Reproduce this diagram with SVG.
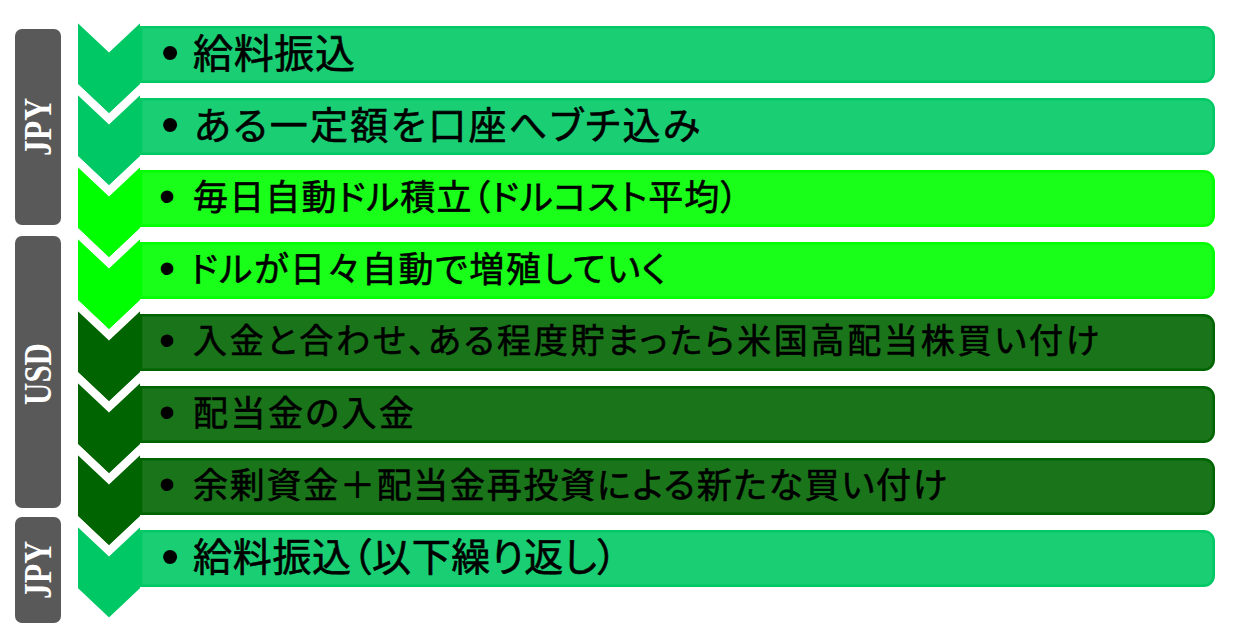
<svg xmlns="http://www.w3.org/2000/svg" width="1233" height="637" viewBox="0 0 1233 637">
<style>
.lab{fill:#595959}
.labt{fill:#fff;font-family:"Liberation Serif","Times New Roman",serif;font-weight:bold;font-size:40px}
.chev{stroke:#fff;stroke-width:8;stroke-linejoin:miter}
.c1{fill:#00C864}.c2{fill:#00FF00}.c3{fill:#006400}
.box{stroke-width:2.5}
.b1{fill:#1ACE74;stroke:#00C864}.b2{fill:#1AFF1A;stroke:#00FF00}.b3{fill:#1A741A;stroke:#006400}
.t{fill:#000;stroke:#000;stroke-width:0.6px;font-family:"Noto Sans CJK JP","Noto Sans CJK SC",sans-serif;font-feature-settings:"palt"}
.bul{fill:#000;font-family:"Liberation Sans",Arial,sans-serif;text-anchor:middle;dominant-baseline:central}
</style>
<rect width="1233" height="637" fill="#fff"/>
<g id="labels">
<g id="label-jpy1"><rect class="lab" x="15" y="29" width="46" height="196" rx="7"/><text class="labt" transform="translate(51,127) rotate(-90)" text-anchor="middle" textLength="58" lengthAdjust="spacingAndGlyphs">JPY</text></g>
<g id="label-usd"><rect class="lab" x="15" y="236" width="46" height="272" rx="7"/><text class="labt" transform="translate(51,374) rotate(-90)" text-anchor="middle" textLength="62" lengthAdjust="spacingAndGlyphs">USD</text></g>
<g id="label-jpy2"><rect class="lab" x="15" y="517" width="46" height="106" rx="7"/><text class="labt" transform="translate(51,570) rotate(-90)" text-anchor="middle" textLength="58" lengthAdjust="spacingAndGlyphs">JPY</text></g>
</g>
<g id="chevrons">
<path id="chev1" class="chev c1" d="M74 14 L109 47 L144 14 L144 86 L109 119 L74 86 Z"/>
<path id="chev2" class="chev c1" d="M74 86 L109 119 L144 86 L144 158 L109 191 L74 158 Z"/>
<path id="chev3" class="chev c2" d="M74 158 L109 191 L144 158 L144 230 L109 263 L74 230 Z"/>
<path id="chev4" class="chev c2" d="M74 230 L109 263 L144 230 L144 302 L109 335 L74 302 Z"/>
<path id="chev5" class="chev c3" d="M74 302 L109 335 L144 302 L144 374 L109 407 L74 374 Z"/>
<path id="chev6" class="chev c3" d="M74 374 L109 407 L144 374 L144 446 L109 479 L74 446 Z"/>
<path id="chev7" class="chev c3" d="M74 446 L109 479 L144 446 L144 518 L109 551 L74 518 Z"/>
<path id="chev8" class="chev c1" d="M74 518 L109 551 L144 518 L144 590 L109 623 L74 590 Z"/>
</g>
<g id="step1"><path class="box b1" d="M141 27.25 H1203.75 a10 10 0 0 1 10 10 V71.75 a10 10 0 0 1 -10 10 H141 Z"/><text class="bul" x="170" y="52" font-size="52">•</text><text class="t" x="193" y="67.6" font-size="40" textLength="162">給料振込</text></g>
<g id="step2"><path class="box b1" d="M141 99.25 H1203.75 a10 10 0 0 1 10 10 V143.75 a10 10 0 0 1 -10 10 H141 Z"/><text class="bul" x="170" y="124" font-size="52">•</text><text class="t" x="194" y="138.8" font-size="38" textLength="506">ある一定額を口座へブチ込み</text></g>
<g id="step3"><path class="box b2" d="M141 171.25 H1203.75 a10 10 0 0 1 10 10 V215.75 a10 10 0 0 1 -10 10 H141 Z"/><text class="bul" x="167" y="196" font-size="46">•</text><text class="t" x="193" y="209.7" font-size="35" textLength="545">毎日自動ドル積立（ドルコスト平均）</text></g>
<g id="step4"><path class="box b2" d="M141 243.25 H1203.75 a10 10 0 0 1 10 10 V287.75 a10 10 0 0 1 -10 10 H141 Z"/><text class="bul" x="167" y="268" font-size="46">•</text><text class="t" x="190" y="281.7" font-size="35" textLength="476">ドルが日々自動で増殖していく</text></g>
<g id="step5"><path class="box b3" d="M141 315.25 H1203.75 a10 10 0 0 1 10 10 V359.75 a10 10 0 0 1 -10 10 H141 Z"/><text class="bul" x="167" y="340" font-size="46">•</text><text class="t" x="193" y="353.3" font-size="34" textLength="906">入金と合わせ、ある程度貯まったら米国高配当株買い付け</text></g>
<g id="step6"><path class="box b3" d="M141 387.25 H1203.75 a10 10 0 0 1 10 10 V431.75 a10 10 0 0 1 -10 10 H141 Z"/><text class="bul" x="167" y="412" font-size="46">•</text><text class="t" x="193" y="425.7" font-size="35" textLength="221">配当金の入金</text></g>
<g id="step7"><path class="box b3" d="M141 459.25 H1203.75 a10 10 0 0 1 10 10 V503.75 a10 10 0 0 1 -10 10 H141 Z"/><text class="bul" x="167" y="484" font-size="46">•</text><text class="t" x="193" y="497.7" font-size="35" textLength="754">余剰資金＋配当金再投資による新たな買い付け</text></g>
<g id="step8"><path class="box b1" d="M141 531.25 H1203.75 a10 10 0 0 1 10 10 V575.75 a10 10 0 0 1 -10 10 H141 Z"/><text class="bul" x="170" y="556" font-size="52">•</text><text class="t" x="193" y="571.2" font-size="39" textLength="424">給料振込（以下繰り返し）</text></g>
</svg>
